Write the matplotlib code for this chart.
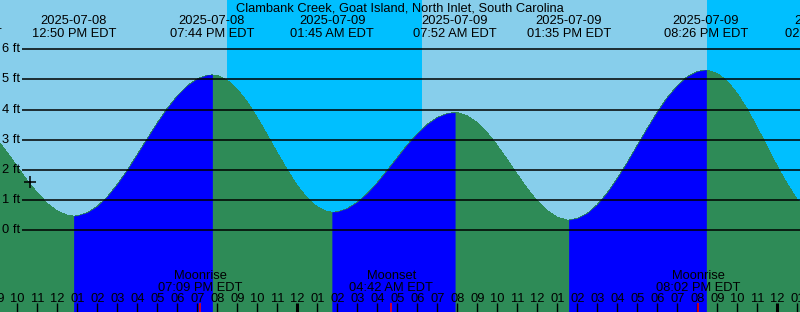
import numpy as np
import pandas as pd
import matplotlib
matplotlib.use("Agg")
import matplotlib.pyplot as plt

plt.rcParams['font.family'] = ['Liberation Sans', 'DejaVu Sans']

# Station and time base
title = "Clambank Creek, Goat Island, North Inlet, South Carolina"
base = pd.Timestamp("2025-07-08 00:00")

# Tide heights (ft), hours since 2025-07-08 00:00 EDT
tide_hours = [9.0, 9.5, 10.0, 10.5, 11.0, 11.5, 12.0, 12.5, 12.833,
              13.0, 13.5, 14.0, 14.5, 15.0, 15.5, 16.0, 16.5, 17.0, 17.5, 18.0, 18.5, 19.0, 19.5, 19.733,
              20.0, 20.5, 21.0, 21.5, 22.0, 22.5, 23.0, 23.5, 24.0, 24.5, 25.0, 25.5, 25.75,
              26.0, 26.5, 27.0, 27.5, 28.0, 28.5, 29.0, 29.5, 30.0, 30.5, 31.0, 31.5, 31.867,
              32.0, 32.5, 33.0, 33.5, 34.0, 34.5, 35.0, 35.5, 36.0, 36.5, 37.0, 37.5, 37.583,
              38.0, 38.5, 39.0, 39.5, 40.0, 40.5, 41.0, 41.5, 42.0, 42.5, 43.0, 43.5, 44.0, 44.433,
              44.5, 45.0, 45.5, 46.0, 46.5, 47.0, 47.5, 48.0, 48.5, 49.0, 49.5, 50.0, 50.5]
tide_ft = [3.00, 2.57, 2.11, 1.65, 1.24, 0.89, 0.64, 0.50, 0.47,
           0.48, 0.58, 0.79, 1.11, 1.52, 1.99, 2.51, 3.04, 3.56, 4.04, 4.46, 4.79, 5.02, 5.14, 5.15,
           5.13, 4.97, 4.67, 4.25, 3.73, 3.16, 2.57, 2.00, 1.48, 1.07, 0.77, 0.62, 0.60,
           0.61, 0.72, 0.93, 1.22, 1.58, 1.99, 2.41, 2.83, 3.20, 3.51, 3.74, 3.87, 3.90,
           3.90, 3.79, 3.57, 3.23, 2.81, 2.34, 1.85, 1.38, 0.97, 0.65, 0.43, 0.34, 0.34,
           0.39, 0.56, 0.85, 1.24, 1.72, 2.25, 2.82, 3.38, 3.92, 4.40, 4.79, 5.09, 5.26, 5.31,
           5.31, 5.20, 4.94, 4.53, 4.01, 3.40, 2.76, 2.12, 1.53, 1.02, 0.63, 0.38, 0.30]

# High / low tide events
event_times = ["2025-07-08 07:09", "2025-07-08 12:50", "2025-07-08 19:44", "2025-07-09 01:45",
               "2025-07-09 07:52", "2025-07-09 13:35", "2025-07-09 20:26", "2025-07-10 02:30"]
event_ft = [3.90, 0.47, 5.15, 0.60, 3.90, 0.34, 5.31, 0.30]

# Sunset / sunrise
sun_times = ["2025-07-08 20:28", "2025-07-09 06:14", "2025-07-09 20:28"]

# Moon events
moon_times = ["2025-07-08 19:09", "2025-07-09 04:42", "2025-07-09 20:02"]
moon_names = ["Moonrise", "Moonset", "Moonrise"]

# Current-time mark
now_time = "2025-07-08 10:38"
now_ft = 1.6

grid_levels = [0, 1, 2, 3, 4, 5, 6]
hour_ticks = list(range(9, 50))

# colors
day_bg = "#87CEEB"
night_bg = "#00BFFF"
rise_color = "#0000FF"
fall_color = "#2E8B57"
fs = 9.3


def hrs(s):
    return (pd.to_datetime(s) - base) / pd.Timedelta(hours=1)


W, H = 800, 312
fig = plt.figure(figsize=(W / 100, H / 100), dpi=100)
ax = fig.add_axes([0, 0, 1, 1])
ax.set_axis_off()

px_per_hour = 20.0
x0_hour = 9.135
zero_px, px_per_ft = 230.3, 30.17
ax.set_xlim(x0_hour, x0_hour + W / px_per_hour)
ax.set_ylim(-(H - zero_px) / px_per_ft, zero_px / px_per_ft)

def yf(py):
    # pixel row from top -> axes fraction
    return 1 - py / H

xt = ax.get_xaxis_transform()
yt = ax.get_yaxis_transform()

# day / night background
sun_h = [hrs(s) for s in sun_times]
edges = [x0_hour - 5] + sun_h + [x0_hour + 45]
for i in range(len(edges) - 1):
    ax.axvspan(edges[i], edges[i + 1], color=day_bg if i % 2 == 0 else night_bg, lw=0, zorder=0)

# tide fill: green underneath, blue laid over the rising stretches
th = np.array(tide_hours)
tf = np.array(tide_ft)
ax.fill_between(th, -5, tf, color=fall_color, lw=0, antialiased=False, zorder=1)
ev_h = [hrs(s) for s in event_times]
for i in range(len(ev_h) - 1):
    if event_ft[i + 1] <= event_ft[i]:
        continue
    m = (th >= ev_h[i] - 0.01) & (th <= ev_h[i + 1] + 0.01)
    ax.fill_between(th[m], -5, tf[m], facecolor=rise_color, edgecolor=rise_color, lw=0.5,
                    antialiased=False, zorder=1.5)

# grid lines and depth labels
ax.hlines(grid_levels, 22 / W, 1, transform=yt, color="black", lw=1.1, zorder=2)
for g in grid_levels:
    ax.text(2 / W, g, f"{g} ft", transform=yt, ha="left", va="center", fontsize=fs, zorder=3)

# title
ax.text(0.5, yf(11.7), title, transform=ax.transAxes, ha="center", va="baseline", fontsize=fs)

# tide event labels
for s in event_times:
    ts = pd.to_datetime(s)
    ax.text(hrs(s), yf(24.3), ts.strftime("%Y-%m-%d"), transform=xt, ha="center", va="baseline", fontsize=fs)
    ax.text(hrs(s), yf(36.7), ts.strftime("%I:%M %p EDT"), transform=xt, ha="center", va="baseline", fontsize=fs)

# moon labels and red ticks
for s, name in zip(moon_times, moon_names):
    ts = pd.to_datetime(s)
    ax.text(hrs(s), yf(279), name, transform=xt, ha="center", va="baseline", fontsize=fs, zorder=3)
    ax.text(hrs(s), yf(290.7), ts.strftime("%I:%M %p EDT"), transform=xt, ha="center", va="baseline",
            fontsize=fs, zorder=3)
    ax.vlines(hrs(s), 0, 8.7 / H, transform=xt, color="red", lw=1.1, zorder=4)

# hour ticks and labels
for h in hour_ticks:
    lab = f"{(h - 1) % 12 + 1:02d}"
    ax.text(h, yf(301.7), lab, transform=xt, ha="center", va="baseline", fontsize=fs, zorder=3)
    lw = 2.2 if h % 24 == 0 else 1.0
    ax.vlines(h, 0, 8.7 / H, transform=xt, color="black", lw=lw, zorder=3)

# current time mark
ax.plot([hrs(now_time)], [now_ft], marker="+", color="black", ms=9, mew=1.1, zorder=4)

fig.savefig("out.png", dpi=100)
